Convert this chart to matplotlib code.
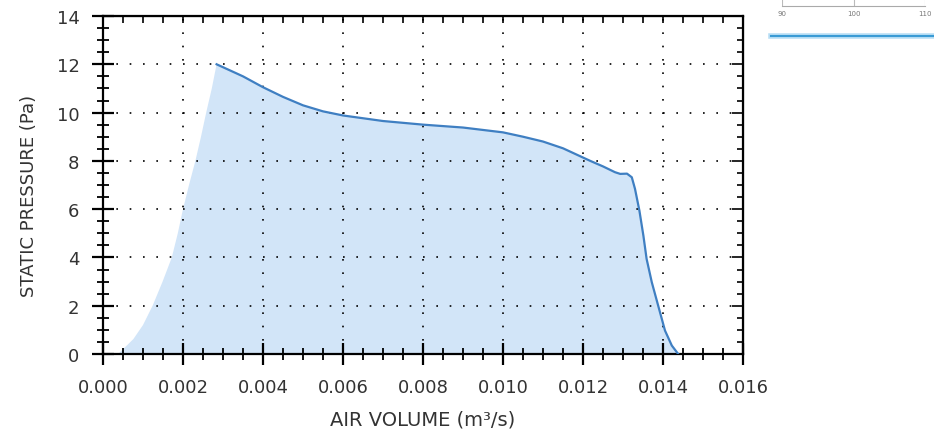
import numpy as np
import matplotlib
matplotlib.use("Agg")
import matplotlib.pyplot as plt
from matplotlib.ticker import MultipleLocator, FormatStrFormatter
from matplotlib.lines import Line2D

# fan curve: air volume (m3/s) vs static pressure (Pa)
curve_q = [0.00284, 0.0035, 0.0040, 0.0045, 0.0050, 0.0055, 0.0060, 0.0070,
           0.0080, 0.0090, 0.0100, 0.0105, 0.0110, 0.0115, 0.01218, 0.0125,
           0.0128, 0.01293, 0.0131, 0.01322, 0.0133, 0.01341, 0.01351, 0.01359,
           0.01372, 0.01388, 0.01405, 0.01422, 0.01438]
curve_p = [12.0, 11.5, 11.05, 10.65, 10.3, 10.05, 9.88, 9.65,
           9.5, 9.38, 9.18, 9.0, 8.8, 8.52, 8.0, 7.77,
           7.53, 7.46, 7.47, 7.32, 6.84, 5.94, 4.9, 3.94,
           2.97, 2.0, 0.97, 0.35, 0.0]

# unstable region, shaded only
stall_q = [0.00038, 0.00076, 0.0010, 0.00124, 0.00149, 0.00172, 0.00187, 0.0020,
           0.00215, 0.00231, 0.00245, 0.00258, 0.00272]
stall_p = [0.0, 0.62, 1.2, 2.0, 3.0, 4.0, 5.0, 6.0,
           7.0, 8.0, 9.0, 10.0, 11.0]

x_ticks = [0.000, 0.002, 0.004, 0.006, 0.008, 0.010, 0.012, 0.014, 0.016]
y_ticks = [0, 2, 4, 6, 8, 10, 12, 14]

plt.rcParams['font.family'] = ['DejaVu Sans']
txt = '#333333'

fig = plt.figure(figsize=(9.34, 4.35), dpi=100)
ax = fig.add_axes([103/934, 1 - 355/435, 640/934, 338/435])

ax.fill(np.r_[stall_q, curve_q], np.r_[stall_p, curve_p],
        color='#d2e5f8', lw=0, zorder=1)
ax.plot(curve_q, curve_p, color='#3f7fc2', lw=1.6, zorder=3)

ax.set_xlim(x_ticks[0], x_ticks[-1])
ax.set_ylim(y_ticks[0], y_ticks[-1])
ax.set_xticks(x_ticks)
ax.set_yticks(y_ticks)
ax.xaxis.set_major_formatter(FormatStrFormatter('%.3f'))
ax.xaxis.set_minor_locator(MultipleLocator(0.0005))
ax.yaxis.set_minor_locator(MultipleLocator(0.5))
ax.grid(True, which='major', color='black', lw=1.2, linestyle=(0, (1, 7)), zorder=2)

for s in ax.spines.values():
    s.set_linewidth(1.6)
    s.set_color('black')
ax.tick_params(which='major', direction='inout', length=16, width=1.6,
               labelsize=13, labelcolor=txt)
ax.tick_params(which='minor', direction='inout', length=8, width=1.3)
ax.tick_params(axis='x', pad=9)
ax.tick_params(axis='y', pad=9)

# inner ticks on top and right edges
top = ax.secondary_xaxis('top')
top.set_xticks(x_ticks)
top.xaxis.set_minor_locator(MultipleLocator(0.0005))
top.tick_params(which='both', direction='in', length=5, width=1.2, labeltop=False)
right = ax.secondary_yaxis('right')
right.set_yticks(y_ticks)
right.yaxis.set_minor_locator(MultipleLocator(0.5))
right.tick_params(which='major', direction='in', length=8, width=1.2, labelright=False)
right.tick_params(which='minor', direction='in', length=4, width=1.2)

ax.set_xlabel('AIR VOLUME (m³/s)', fontsize=14, color=txt, labelpad=10)
ax.set_ylabel('STATIC PRESSURE (Pa)', fontsize=13, color=txt)
ax.yaxis.set_label_coords(-0.102, 0.47)

# small scale strip in the upper right corner
strip = fig.add_axes([782/934, 1 - 7/435, 143/934, 7/435])
strip.set_xlim(90, 110)
strip.set_xticks([90, 100, 110])
strip.set_yticks([])
for k in ['top', 'left', 'right']:
    strip.spines[k].set_visible(False)
strip.spines['bottom'].set_color('#aaaaaa')
strip.spines['bottom'].set_linewidth(0.8)
strip.tick_params(axis='x', length=0, labelsize=5, labelcolor='#777777', pad=3)
strip.patch.set_alpha(0)
for xv in [90, 100, 110]:
    strip.axvline(xv, color='#bbbbbb', lw=0.8)
fig.add_artist(Line2D([771/934, 1.0], [1 - 37/435] * 2, color='#b8def5', lw=4))
fig.add_artist(Line2D([771/934, 1.0], [1 - 37/435] * 2, color='#3a9bd5', lw=1.5))

fig.savefig('out.png', dpi=100)
